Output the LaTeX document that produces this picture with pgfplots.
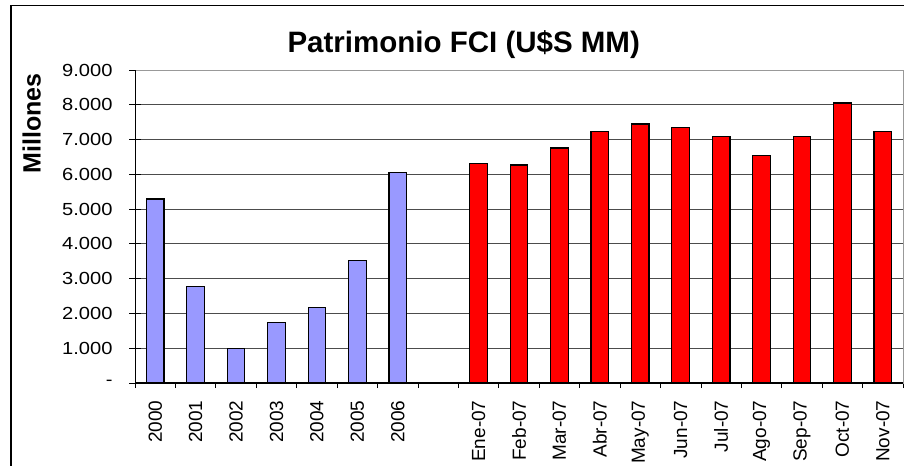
\documentclass[border=0pt]{standalone}
\usepackage{fontspec}
\setmainfont{Liberation Sans}
\newfontfamily\ytickfont[FakeStretch=1.15]{Liberation Sans}
\usepackage{pgfplots}
\pgfplotsset{compat=1.18}
\definecolor{barblue}{HTML}{9999FF}
\definecolor{barred}{HTML}{FF0000}
\begin{document}
\begin{tikzpicture}[x=1bp,y=1bp]
\useasboundingbox (0,0) rectangle (904,-466);
\draw[line width=1.2bp] (11,-490) -- (11,-5.5) -- (930,-5.5);
\begin{axis}[
  at={(135bp,-383bp)}, anchor=south west,
  scale only axis, width=768bp, height=313bp,
  xmin=-0.5, xmax=18.5,
  ymin=0, ymax=9000,
  ybar, bar width=17.6bp, bar shift=0pt,
  xtick={0,...,18},
  xticklabels={2000,2001,2002,2003,2004,2005,2006,,Ene-07,Feb-07,Mar-07,Abr-07,May-07,Jun-07,Jul-07,Ago-07,Sep-07,Oct-07,Nov-07},
  minor xtick={-0.5,0.5,...,18.5},
  ytick={0,1000,...,9000},
  yticklabels={-\hspace{20bp},1.000,2.000,3.000,4.000,5.000,6.000,7.000,8.000,9.000},
  xtick pos=bottom, ytick pos=left,
  tick align=center,
  major x tick style={draw=none},
  minor x tick style={black, line width=0.8bp, yshift=-2.5bp},
  minor tick length=5bp,
  major y tick style={black, line width=0.8bp},
  major tick length=12bp,
  ymajorgrids,
  major grid style={black!70, line width=0.8bp},
  axis line style={draw=gray!80, line width=1bp},
  xticklabel style={font=\fontsize{19bp}{21bp}\selectfont, yshift=-8bp, rotate=90, anchor=east},
  yticklabel style={font=\ytickfont\fontsize{17.5bp}{20bp}\selectfont, anchor=east, xshift=-13bp},
  title={Patrimonio FCI (U\$S MM)},
  title style={at={(axis description cs:0.428,1.037)}, anchor=base, font=\bfseries\fontsize{29.5bp}{32bp}\selectfont},
  ylabel={Millones},
  ylabel style={at={(axis description cs:-0.1345,0.829)}, anchor=center, font=\bfseries\fontsize{25bp}{28bp}\selectfont},
]
\addplot[fill=barblue, draw=black, line width=1.2bp] coordinates {
  (0,5290) (1,2770) (2,990) (3,1740) (4,2170) (5,3520) (6,6060)
};
\addplot[fill=barred, draw=black, line width=1.2bp] coordinates {
  (8,6320) (9,6270) (10,6760) (11,7240) (12,7450) (13,7350) (14,7080) (15,6550) (16,7080) (17,8050) (18,7240)
};
\draw[black, line width=1.2bp] (rel axis cs:0,1) -- (rel axis cs:0,0) -- (rel axis cs:1,0);
\end{axis}
\end{tikzpicture}
\end{document}
